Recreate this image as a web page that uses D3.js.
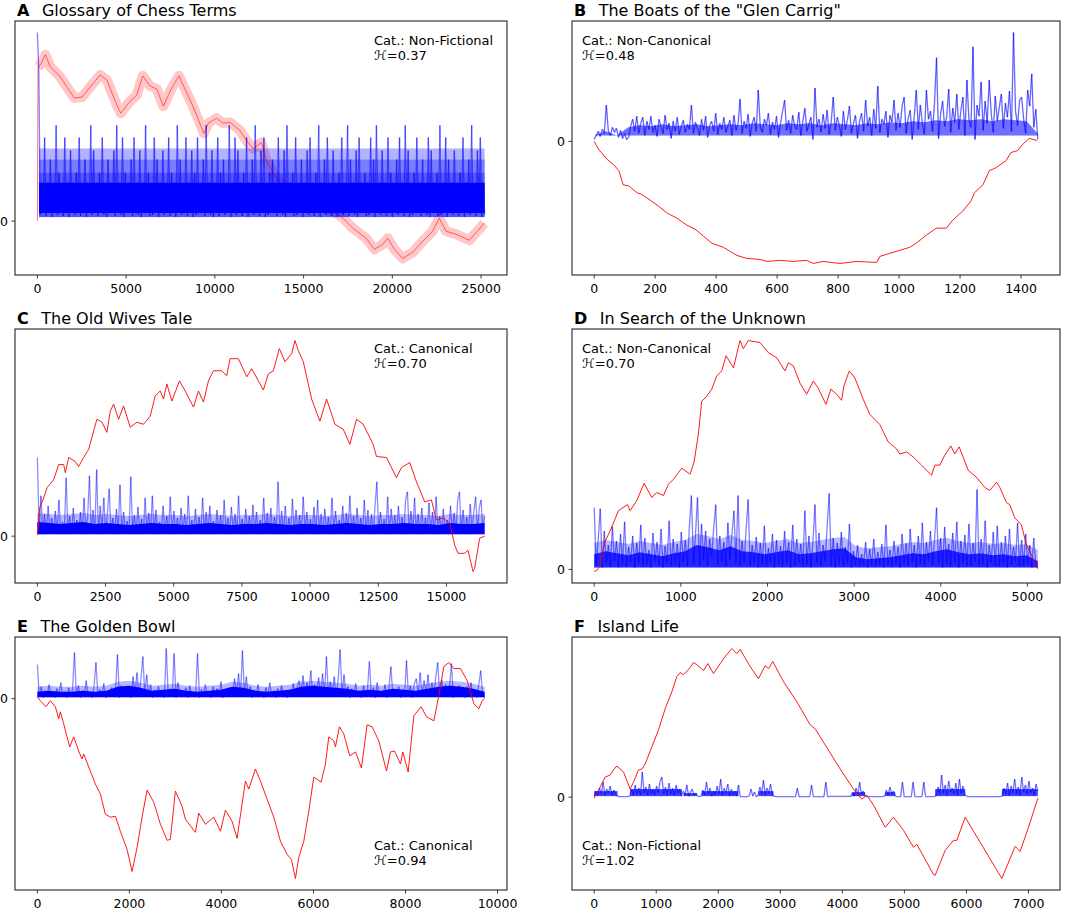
<!DOCTYPE html>
<html><head><meta charset="utf-8">
<script src="https://cdn.jsdelivr.net/npm/d3@7"></script>
<style>body{margin:0;background:#fff} text{font-family:"DejaVu Sans",sans-serif;fill:#000}</style>
</head><body><svg id="chart" width="1084" height="909"></svg>
<script>
// ---------------- DATA ----------------
const letters = ["A","B","C","D","E","F"];
const titles = ["Glossary of Chess Terms","The Boats of the \"Glen Carrig\"","The Old Wives Tale","In Search of the Unknown","The Golden Bowl","Island Life"];
const categories = ["Non-Fictional","Non-Canonical","Canonical","Non-Canonical","Canonical","Non-Fictional"];
const hurst = ["0.37","0.48","0.70","0.70","0.94","1.02"];
const lengths = [25200,1455,16400,5120,9720,7150];
const ticksA = [0,5000,10000,15000,20000,25000];
const ticksB = [0,200,400,600,800,1000,1200,1400];
const ticksC = [0,2500,5000,7500,10000,12500,15000];
const ticksD = [0,1000,2000,3000,4000,5000];
const ticksE = [0,2000,4000,6000,8000,10000];
const ticksF = [0,1000,2000,3000,4000,5000,6000,7000];

// red: cumulative walk [position, value]
const redA = [[0,0],[37,153],[169,155],[450,165],[730,153],[1292,143],[2079,122],[2510,123],[2978,133],[3540,145],[3915,140],[4476,115],[4701,107],[5132,117],[5600,125],[5937,144],[6349,134],[6724,131],[7099,114],[7567,132],[7979,144],[8316,131],[8784,113],[9384,87],[9627,97],[10096,102],[10470,97],[10845,98],[11407,90],[11781,80],[12156,72],[12624,78],[12905,60],[13280,48],[13654,38],[14778,27],[15902,17],[16838,8],[17213,3],[17775,-7],[18524,-17],[18993,-28],[19461,-23],[19742,-17],[20116,-28],[20585,-37],[21147,-31],[21708,-20],[22270,-10],[22645,3],[23020,-10],[23581,-13],[24330,-19],[24892,-8],[25173,-2]];
const redB = [[0,0],[15,-8],[43,-18],[64,-23],[81,-29],[95,-43],[113,-44],[141,-51],[152,-52],[173,-56],[206,-63],[239,-71],[271,-76],[304,-83],[331,-87],[359,-94],[386,-101],[424,-105],[468,-113],[500,-116],[544,-117],[566,-119],[610,-118],[653,-119],[697,-118],[719,-121],[751,-119],[806,-121],[860,-119],[926,-120],[937,-114],[969,-111],[1002,-108],[1035,-105],[1056,-101],[1089,-93],[1122,-86],[1155,-86],[1176,-78],[1209,-69],[1236,-59],[1247,-51],[1275,-43],[1296,-29],[1318,-26],[1351,-19],[1367,-11],[1389,-9],[1405,-3],[1427,3],[1452,1]];
const redC = [[0,1],[85,28],[232,38],[354,48],[598,56],[781,71],[964,71],[1025,63],[1147,78],[1391,74],[1513,69],[1696,78],[1879,86],[2001,98],[2184,116],[2368,113],[2551,103],[2673,124],[2795,131],[2978,116],[3161,129],[3405,108],[3649,113],[3893,111],[4137,119],[4321,139],[4504,144],[4626,136],[4748,151],[4931,134],[5211,154],[5419,144],[5724,128],[5907,144],[6090,133],[6273,154],[6456,164],[6761,164],[6944,159],[7066,176],[7371,176],[7677,158],[7860,166],[8287,145],[8470,161],[8653,164],[8873,186],[9080,173],[9324,181],[9446,194],[9568,184],[9751,173],[10056,136],[10361,114],[10605,136],[10910,111],[11215,106],[11459,91],[11703,116],[11947,111],[12313,91],[12435,79],[12801,78],[13167,58],[13350,68],[13655,73],[13899,54],[14204,34],[14448,36],[14631,16],[14875,18],[15119,13],[15302,-9],[15424,-17],[15668,-17],[15790,-14],[15973,-35],[16034,-32],[16217,-2],[16400,0]];
const redD = [[0,-2],[31,-1],[69,4],[127,28],[184,38],[280,58],[384,64],[415,58],[492,68],[576,85],[665,71],[723,76],[799,73],[857,84],[915,89],[1011,100],[1107,94],[1153,106],[1203,134],[1241,166],[1299,171],[1357,178],[1414,191],[1472,196],[1522,211],[1607,199],[1683,226],[1722,218],[1779,226],[1914,224],[2010,214],[2106,209],[2202,196],[2241,204],[2298,201],[2375,184],[2452,173],[2529,186],[2586,179],[2675,163],[2732,178],[2798,173],[2855,167],[2882,181],[2944,196],[3009,189],[3105,168],[3182,153],[3297,143],[3393,126],[3489,119],[3528,114],[3605,116],[3682,111],[3778,103],[3893,93],[3932,103],[3989,103],[4035,111],[4116,122],[4162,114],[4212,121],[4316,98],[4412,91],[4508,81],[4566,78],[4643,86],[4681,81],[4758,66],[4796,64],[4854,51],[4931,44],[4988,24],[5027,18],[5065,11],[5115,1]];
const redE = [[0,2],[65,-2],[188,-8],[283,-2],[391,-8],[464,-20],[500,-13],[572,-25],[645,-38],[703,-48],[790,-38],[898,-52],[971,-60],[1007,-55],[1116,-68],[1261,-85],[1370,-95],[1478,-115],[1587,-118],[1696,-117],[1804,-132],[1949,-150],[2058,-172],[2167,-148],[2275,-118],[2384,-91],[2529,-103],[2674,-125],[2819,-141],[2891,-140],[2999,-92],[3145,-107],[3217,-120],[3435,-133],[3507,-114],[3652,-125],[3833,-118],[3978,-132],[4087,-111],[4232,-122],[4340,-139],[4522,-82],[4594,-90],[4739,-70],[4848,-82],[4993,-100],[5138,-118],[5283,-142],[5428,-155],[5521,-160],[5608,-179],[5681,-158],[5790,-142],[5899,-112],[6007,-78],[6167,-83],[6261,-65],[6333,-38],[6442,-42],[6478,-48],[6565,-28],[6659,-35],[6790,-57],[6913,-53],[7043,-69],[7166,-26],[7275,-28],[7420,-42],[7587,-72],[7674,-53],[7761,-52],[7891,-65],[7942,-53],[8058,-73],[8181,-17],[8341,-8],[8457,-18],[8616,-22],[8724,3],[8833,32],[8942,36],[9051,30],[9196,30],[9340,18],[9485,-5],[9594,-10],[9666,-2],[9720,0]];
const redF = [[0,-1],[70,7],[177,20],[258,22],[322,28],[365,31],[473,25],[580,8],[634,15],[714,27],[768,28],[822,33],[929,50],[1037,67],[1144,88],[1252,105],[1332,120],[1386,124],[1440,122],[1520,127],[1601,134],[1655,132],[1762,126],[1832,133],[1923,123],[2031,133],[2111,140],[2219,148],[2299,143],[2353,147],[2514,130],[2648,118],[2756,131],[2810,128],[2879,135],[3051,115],[3266,95],[3481,72],[3562,68],[3723,52],[3965,28],[4179,8],[4314,-2],[4394,2],[4502,-8],[4690,-30],[4824,-20],[4985,-33],[5146,-50],[5200,-47],[5468,-77],[5495,-78],[5657,-53],[5791,-43],[5845,-43],[5979,-20],[6570,-81],[6785,-49],[6865,-54],[7000,-30],[7150,-1]];

// blue: local fluctuation series, evenly spaced samples over the text
const blueA = [187,150,6,38,8,83,5,30,9,61,4,38,10,95,6,48,8,28,5,83,9,38,4,70,8,32,6,48,10,83,5,38,8,61,4,30,9,95,6,70,8,38,5,48,10,83,6,32,4,61,8,38,9,70,5,95,8,30,6,83,4,48,10,38,8,61,5,83,9,32,6,70,4,38,8,95,10,48,5,30,6,83,8,61,4,38,9,70,6,32,8,83,5,48,10,38,4,95,8,61,6,30,9,83,5,38,8,70,4,48,6,83,10,32,8,61,5,95,9,38,6,70,4,30,8,83,5,48,10,61,6,38,8,95,4,32,9,83,6,70,8,38,5,48,10,83,4,30,8,61,6,95,9,38,5,70,8,83,4,32,6,48,10,61,8,38,5,83,9,30,6,70,4,95,8,38,10,48,5,83,6,32,8,61,4,38,9,70,6,83,8,30,5,48,10,95,4,38,8,61,6,83,9,32,5,70,8,38,4,48,10,83,6,30,8,95,5,61,9,38,6,70,4,83,8,32,10,48,5,38,6,83,8,61,4,95,9,30,6,70,8,38,5,83,10,48,4,32,8,61,6,83,9,38,5,95,8,70,4,30,6,48,10,83,8,38,5,61,9,32,6,83,4,70,8,38,10,48,5,95,6,30,8,83,4,61,9,38,6,70,8,32,5,48,10,83,4,38,8,61,6,95,9,30,5,70,8,83,4,38,6];
const blueB = [2,6,10,5,12,8,36,10,6,14, 9,13,4,11,3,8,2,4,15,22, 10,25,8,18,24,6,20,12,25,9, 16,5,22,14,8,26,12,18,3,20, 10,24,7,15,21,9,17,12,36,8, 19,13,6,22,11,25,4,16,20,10, 28,7,18,12,24,9,15,21,6,26, 11,17,42,8,20,13,27,5,18,24, 10,51,14,9,22,16,28,7,19,12, 25,4,18,30,41,11,21,8,26,15, 12,29,6,20,33,10,17,24,2,53, 14,22,9,27,13,31,7,19,44,11, 24,16,5,30,12,21,35,8,18,26, 3,20,28,10,41,15,24,6,32,13, 55,9,22,17,30,4,26,19,41,11, 28,14,35,44,8,23,31,2,25,51, 12,36,18,7,51,22,30,10,38,83, 3,27,40,15,24,52,9,33,19,47, 12,30,44,6,61,21,14,94,2,36, 25,59,11,40,18,61,28,9,45,20, 34,47,13,38,24,50,10,108,30,16, 41,44,22,8,51,35,67,14,32,2];
const blueC = [78,4,40,3,22,2,30,5,18,3, 25,2,36,4,14,3,58,5,20,2, 28,4,16,3,24,2,38,5,19,60, 3,26,4,66,2,30,5,38,3,22, 47,4,18,2,27,5,51,3,24,4, 15,2,59,5,21,3,29,4,17,2, 38,5,23,3,40,4,26,2,14,5, 30,3,20,4,39,2,25,5,18,3, 28,4,22,2,40,5,16,3,27,4, 19,2,38,5,24,3,30,4,15,2, 26,5,21,3,36,4,18,2,29,5, 22,3,40,4,17,2,27,5,20,3, 31,4,24,2,16,5,38,3,23,4, 28,2,19,5,54,3,25,4,30,2, 18,5,37,3,26,4,21,2,39,5, 24,3,17,4,29,2,36,5,22,3, 27,4,19,2,38,5,25,3,16,4, 30,2,23,5,40,3,20,4,28,2, 18,5,36,3,26,4,22,2,31,54, 3,24,5,17,4,39,2,27,5,21, 3,30,4,19,2,36,44,5,25,3, 38,4,22,2,28,5,18,3,33,4, 24,2,39,5,20,3,27,4,16,2, 30,5,23,3,36,44,4,26,2,19, 5,32,3,25,39,4,28,36,5,20];
const blueD = [61,4,30,60,2,38,6,24,3,42, 8,28,2,35,5,47,3,22,7,33, 2,26,6,44,3,31,5,19,2,36, 8,27,4,40,2,23,6,48,3,30, 5,25,2,37,7,29,3,42,73,6, 34,71,4,45,9,38,3,30,12,41, 64,5,33,8,27,3,46,10,35,58, 6,73,4,28,7,39,69,3,24,6, 32,2,26,5,43,3,21,7,35,2, 29,5,23,3,38,6,27,2,44,4, 30,7,25,3,58,5,33,2,28,64, 6,36,3,24,8,42,75,4,31,2, 26,5,37,3,22,6,45,2,18,4, 24,3,15,5,27,2,20,4,30,3, 17,5,25,2,44,4,19,3,28,6, 22,2,35,5,26,3,40,7,24,2, 33,5,46,3,27,8,38,4,29,61, 6,31,2,42,5,25,3,36,7,47, 2,28,6,34,3,45,4,26,8,79, 3,30,5,48,2,24,7,37,4,43, 3,27,6,33,2,40,5,22,8,46, 3,29,4,35,6,24,2,31,5,1];
const blueE = [34,2,12,1,8,3,14,2,6,1, 10,3,16,2,7,1,11,3,9,46, 2,13,1,8,3,18,2,6,1,12, 36,3,9,2,15,1,7,3,11,2, 8,44,1,13,3,6,2,10,1,22, 4,26,3,19,42,5,24,2,14,1, 9,3,12,2,7,1,50,3,10,2, 45,1,16,3,8,2,11,1,13,3, 6,2,45,1,9,3,14,2,7,1, 12,3,10,2,17,1,8,3,11,2, 6,20,4,25,3,48,5,22,2,12, 1,9,3,14,2,7,1,11,3,16, 2,8,1,10,3,13,2,6,1,9, 3,15,2,11,18,4,23,3,16,5, 28,2,14,6,21,3,25,4,42,3, 17,5,22,2,19,49,4,24,3,12, 1,10,3,15,2,8,1,13,3,9, 37,2,11,1,16,3,7,2,14,1, 10,32,3,8,2,12,1,9,3,38, 2,13,1,15,20,4,26,3,18,5, 24,2,16,4,22,36,3,19,5,14, 2,11,35,1,9,3,13,2,8,1, 12,3,16,2,9,1,14,28,3,1];
const blueF = [1,6,2,9,3,15,2,8,4,11, 2,7,3,1,0.5,0.5,0.5,0.5,0.5,0.5, 1,8,2,12,3,9,2,25,4,10, 2,13,3,8,2,11,4,16,20,3, 10,2,14,3,9,2,12,4,8,1, 6,2,12,1,5,8,2,4,1,0.5, 1,7,2,15,3,9,1,6,2,11, 3,18,2,9,4,13,1,8,2,6, 1,12,0.5,0.5,0.5,0.5,0.5,1,8,1, 5,0.5,2,10,3,17,2,9,4,13, 2,1,0.5,0.5,0.5,0.5,0.5,0.5,0.5,0.5, 0.5,0.5,0.5,0.5,9,0.5,0.5,0.5,0.5,0.5, 0.5,0.5,12,0.5,0.5,0.5,0.5,0.5,0.5,0.5, 15,0.5,0.5,1,0.5,1,0.5,1,0.5,1, 0.5,1,0.5,1,0.5,4,1,9,2,15, 3,6,1,0.5,0.5,0.5,0.5,0.5,0.5,0.5, 0.5,0.5,0.5,1,7,2,10,3,6,1, 0.5,0.5,0.5,15,0.5,0.5,0.5,0.5,0.5,15, 0.5,0.5,0.5,0.5,0.5,15,0.5,0.5,0.5,0.5, 0.5,0.5,2,10,3,22,4,12,2,16, 5,9,3,14,2,18,4,11,3,1, 0.5,0.5,0.5,0.5,0.5,0.5,0.5,0.5,0.5,0.5, 0.5,0.5,0.5,0.5,0.5,0.5,0.5,0.5,0.5,1, 9,3,14,2,11,4,18,3,10,2, 20,5,12,3,16,4,9,2,13,6];

// dense body of the blue series, top edge at evenly spaced positions
const bodyB = [6,10,6,14,16,15,17,15,16,17,15,16,17,16,18,17,16,18,17,18,16,18,17,16,18,17,19,18,20,19,21,20,22,21,22,20,22,21,20,8];
const bodyC = [14,13,12,13,14,12,13,12,11,12,13,12,12,11,12,13,12,11,12,12,13,12,11,12,12,11,12,13,12,11,12,12,13,12,12,11,13,12,12,13];
const bodyD = [15,18,16,14,17,15,13,16,18,24,22,19,23,18,17,15,17,19,15,16,18,20,21,12,10,11,12,14,16,15,18,20,17,15,16,14,15,13,14,8];
const bodyE = [7,8,7,7,8,7,8,12,13,11,8,9,10,8,7,8,9,12,11,8,7,8,9,12,13,12,11,10,8,9,8,10,9,8,10,12,13,12,10,7];
// constant-level blocks of the blue series: [from, to, low, high]
const bandsA = [[90,25200,8,38],[90,25200,4,48],[90,25200,4,61],[90,25200,4,72]];
const bandsF = [[0,376,1,6],[580,1413,1,8],[1440,1655,1,4],[1735,2326,1,6],[2648,2890,1,6],[4153,4367,1,5],[4690,4851,1,5],[5495,5979,1,8],[6570,7150,1,8]];

// ---------------- LAYOUT / STYLE ----------------
const svg = d3.select("#chart");
const colX = [[15,507],[572,1060]];
const rowY = [[21,275],[329,583],[637,890]];
const reds = [redA,redB,redC,redD,redE,redF];
const blues = [blueA,blueB,blueC,blueD,blueE,blueF];
const bodies = [null,bodyB,bodyC,bodyD,bodyE,null];
const bodyBase = [0,6,2,2,1.5,0];
const bodyOpacity = [0,0.4,1,0.8,1,0];
const haloExtra = [0,0,9,11,5,0];
const bands = [bandsA,[],[],[],[],bandsF];
const bandOpacity = [[1,0.3,0.3,0.3],[],[],[],[],[0.75,0.75,0.75,0.75,0.75,0.75,0.75,0.75,0.75]];
const ticks = [ticksA,ticksB,ticksC,ticksD,ticksE,ticksF];
const annBottom = [false,false,false,false,true,true];
const redBand = [5,0,0,0,0,0];
const redOnTop = [false,true,true,true,true,true];
const segOpacity = [0.5,0.6,0.45,0.5,0.45,0.55];

for (let p = 0; p < 6; p++) {
  const col = p % 2, row = Math.floor(p / 2);
  const [x0, x1] = colX[col], [y0, y1] = rowY[row];
  const N = lengths[p];
  const blue = blues[p], red = reds[p];
  const bluePts = blue.map((v, i) => [i * N / (blue.length - 1), v]);

  const x = d3.scaleLinear().domain([-0.05 * N, 1.05 * N]).range([x0, x1]);
  let lo = Math.min(d3.min(red, d => d[1]) - redBand[p], d3.min(blue));
  let hi = Math.max(d3.max(red, d => d[1]) + redBand[p], d3.max(blue));
  const pad = 0.05 * (hi - lo);
  const y = d3.scaleLinear().domain([lo - pad, hi + pad]).range([y1, y0]);

  const g = svg.append("g");
  const line = d3.line().x(d => x(d[0])).y(d => y(d[1]));

  const drawRed = () => {
    if (redBand[p] > 0) {
      g.append("path").datum(red.slice(1)).attr("d", line).attr("fill", "none")
        .attr("stroke", "#ff0000").attr("stroke-opacity", 0.22)
        .attr("stroke-width", y(0) - y(2 * redBand[p])).attr("stroke-linejoin", "round");
    }
    g.append("path").datum(red).attr("d", line).attr("fill", "none")
      .attr("stroke", "#ff0000").attr("stroke-opacity", redBand[p] > 0 ? 0.55 : 0.9)
      .attr("stroke-width", 1);
  };
  if (!redOnTop[p]) drawRed();

  // body of the blue series
  if (bodies[p]) {
    const body = bodies[p];
    const bx = (d, i) => x(i * N / (body.length - 1));
    g.append("path").datum(body)
      .attr("d", d3.area().x(bx).y0(y(bodyBase[p])).y1(d => y(d + haloExtra[p])))
      .attr("fill", "#0000ff").attr("fill-opacity", 0.28);
    g.append("path").datum(body)
      .attr("d", d3.area().x(bx).y0(y(bodyBase[p])).y1(d => y(d)))
      .attr("fill", "#0000ff").attr("fill-opacity", bodyOpacity[p]);
  }
  g.append("g").selectAll("rect").data(bands[p]).join("rect")
    .attr("x", d => x(d[0])).attr("width", d => x(d[1]) - x(d[0]))
    .attr("y", d => y(d[3])).attr("height", d => y(d[2]) - y(d[3]))
    .attr("fill", "#0000ff").attr("fill-opacity", (d, i) => bandOpacity[p][i]);

  const segs = d3.pairs(bluePts);
  g.append("g").selectAll("line").data(segs).join("line")
    .attr("x1", d => x(d[0][0])).attr("y1", d => y(d[0][1]))
    .attr("x2", d => x(d[1][0])).attr("y2", d => y(d[1][1]))
    .attr("stroke", "#0000ff").attr("stroke-width", 1.3)
    .attr("stroke-opacity", segOpacity[p]);

  if (redOnTop[p]) drawRed();

  // frame
  g.append("rect").attr("x", x0).attr("y", y0).attr("width", x1 - x0).attr("height", y1 - y0)
    .attr("fill", "none").attr("stroke", "#262626").attr("stroke-width", 1.1);

  // x axis ticks
  const tg = g.append("g");
  ticks[p].forEach(t => {
    tg.append("line").attr("x1", x(t)).attr("x2", x(t)).attr("y1", y1).attr("y2", y1 + 3.5)
      .attr("stroke", "#262626").attr("stroke-width", 0.9);
    tg.append("text").attr("x", x(t)).attr("y", y1 + 17.5).attr("text-anchor", "middle")
      .attr("font-size", "12.5px").text(t);
  });
  // y zero tick
  g.append("line").attr("x1", x0 - 3.5).attr("x2", x0).attr("y1", y(0)).attr("y2", y(0))
    .attr("stroke", "#262626").attr("stroke-width", 0.9);
  g.append("text").attr("x", x0 - 7).attr("y", y(0)).attr("dy", "0.36em")
    .attr("text-anchor", "end").attr("font-size", "12.5px").text("0");

  // title
  const tt = g.append("text").attr("x", x0 + 2).attr("y", y0 - 5.5).attr("font-size", "16px");
  tt.append("tspan").attr("font-weight", "bold").text(letters[p]);
  tt.append("tspan").attr("dx", 12.5).text(titles[p]);

  // annotation
  const ax = col === 0 ? x0 + 359 : x0 + 10;
  const ay = annBottom[p] ? y1 - 40 : y0 + 23.5;
  g.append("text").attr("x", ax).attr("y", ay).attr("font-size", "13px").text("Cat.: " + categories[p]);
  const h = g.append("text").attr("x", ax).attr("y", ay + 15).attr("font-size", "13px");
  h.append("tspan").attr("font-style", "italic").text("\u210B");
  h.append("tspan").text("=" + hurst[p]);
}
</script></body></html>
